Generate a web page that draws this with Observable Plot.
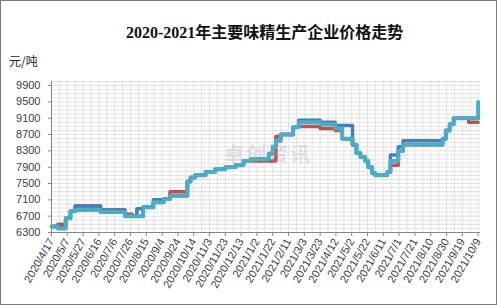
<!DOCTYPE html>
<html><head><meta charset="utf-8">
<script src="https://cdn.jsdelivr.net/npm/d3@7"></script>
<script src="https://cdn.jsdelivr.net/npm/@observablehq/plot@0.6"></script>
<style>
html,body{margin:0;padding:0;background:#fff;}
#wrap{position:relative;width:497px;height:305px;overflow:hidden;background:#fff;}
#frame{position:absolute;left:0;top:0;width:497px;height:305px;box-sizing:border-box;border:1px solid #7a7a7a;pointer-events:none;}
#title{position:absolute;left:126px;top:19px;white-space:nowrap;font:bold 16px "Liberation Serif","Noto Sans CJK SC",serif;color:#111;}
#unit{position:absolute;left:9px;top:52px;white-space:nowrap;font:12px "Noto Sans CJK SC",sans-serif;color:#222;}
#wm{position:absolute;left:224px;top:139px;white-space:nowrap;font:bold 20px "Noto Sans CJK SC",sans-serif;color:rgba(160,160,160,0.28);letter-spacing:2px;}
#chart{position:absolute;left:0;top:0;}
</style></head>
<body>
<div id="wrap">
  <div id="chart"></div>
  <div id="wm">卓创资讯</div>
  <div id="title">2020-2021年主要味精生产企业价格走势</div>
  <div id="unit">元/吨</div>
  <div id="frame"></div>
</div>
<script>
// step breakpoints (price holds until next date)
const dates = ["2020-04-17","2020-04-25","2020-05-05","2020-05-11","2020-05-17","2020-06-18","2020-07-19","2020-07-28","2020-08-03","2020-08-11","2020-08-24","2020-09-06","2020-09-14","2020-10-06","2020-10-10","2020-10-16","2020-10-29","2020-11-10","2020-11-23","2020-12-06","2020-12-16","2020-12-25","2021-01-17","2021-01-22","2021-01-26","2021-02-01","2021-02-17","2021-02-24","2021-03-23","2021-04-11","2021-04-20","2021-05-03","2021-05-08","2021-05-13","2021-05-19","2021-05-23","2021-05-28","2021-06-01","2021-06-16","2021-06-20","2021-06-30","2021-07-06","2021-08-25","2021-08-29","2021-09-03","2021-09-08","2021-09-27","2021-10-09"];
const teal = [6450,6400,6650,6820,6850,6800,6700,6700,6700,6920,7040,7120,7200,7550,7650,7700,7780,7850,7900,7950,8050,8100,8230,8400,8550,8700,8880,9000,8950,8850,8600,8450,8250,8150,8050,7900,7750,7700,7780,8050,8300,8450,8600,8800,8950,9100,9100,9500];
const blue = [6450,6420,6650,6820,6950,6850,6700,6700,6880,6920,7100,7120,7200,7550,7650,7700,7780,7850,7900,7950,8050,8100,8230,8400,8550,8700,8880,9050,9000,8920,8920,8450,8250,8150,8050,7900,7750,7700,7780,8200,8400,8550,8600,8800,8950,9100,9100,9100];
const red  = [6450,6500,6650,6820,6950,6850,6750,6700,6700,6920,7040,7120,7300,7550,7650,7700,7780,7850,7900,7950,8050,8050,8050,8050,8650,8700,8880,8900,8850,8800,8600,8450,8250,8150,8050,7900,7750,7700,7780,7950,8300,8450,8600,8800,8950,9100,9000,9000];
const yTicks = [6300,6700,7100,7500,7900,8300,8700,9100,9500,9900];
const xTickLabels = ["2020/4/17","2020/5/7","2020/5/27","2020/6/16","2020/7/6","2020/7/26","2020/8/15","2020/9/4","2020/9/24","2020/10/14","2020/11/3","2020/11/23","2020/12/13","2021/1/2","2021/1/22","2021/2/11","2021/3/3","2021/3/23","2021/4/12","2021/5/2","2021/5/22","2021/6/11","2021/7/1","2021/7/21","2021/8/10","2021/8/30","2021/9/19","2021/10/9"];

const parse = d3.utcParse("%Y-%m-%d");
const tickParse = d3.utcParse("%Y/%m/%d");
const xTicks = xTickLabels.map(s => tickParse(s));
const mk = vals => dates.map((d, i) => ({date: parse(d), value: vals[i]}));
const start = xTicks[0];
const end = d3.utcDay.offset(xTicks[xTicks.length - 1], 3);

const chart = Plot.plot({
  width: 497, height: 305,
  marginLeft: 51, marginRight: 17, marginTop: 81, marginBottom: 73,
  x: {type: "utc", domain: [start, end]},
  y: {domain: [6300, 10000]},
  style: {fontFamily: "Liberation Sans, Arial, sans-serif", fontSize: "11px", color: "#404040", background: "transparent"},
  marks: [
    Plot.ruleY(d3.range(6400, 10001, 100), {stroke: "#e2e2e2", strokeWidth: 1}),
    Plot.ruleX(d3.utcDay.range(d3.utcDay.offset(start, 10), end, 10), {stroke: "#e2e2e2", strokeWidth: 1}),
    Plot.axisY({ticks: yTicks, tickSize: 3, tickPadding: 8, label: null, stroke: "#868686", tickFormat: d => String(d)}),
    Plot.axisX({ticks: xTicks, tickSize: 4, tickPadding: 3, tickRotate: -60, label: null, stroke: "#868686", tickFormat: d3.utcFormat("%Y/%-m/%-d")}),
    Plot.ruleY([6300], {stroke: "#868686"}),
    Plot.ruleX([start], {stroke: "#868686"}),
    Plot.line(mk(red), {x: "date", y: "value", curve: "step-after", stroke: "#C0504D", strokeWidth: 3.5}),
    Plot.line(mk(blue), {x: "date", y: "value", curve: "step-after", stroke: "#4A7EBB", strokeWidth: 3.5}),
    Plot.line(mk(teal), {x: "date", y: "value", curve: "step-after", stroke: "#4BACC6", strokeWidth: 4})
  ]
});
document.getElementById("chart").appendChild(chart);
</script>
</body></html>
